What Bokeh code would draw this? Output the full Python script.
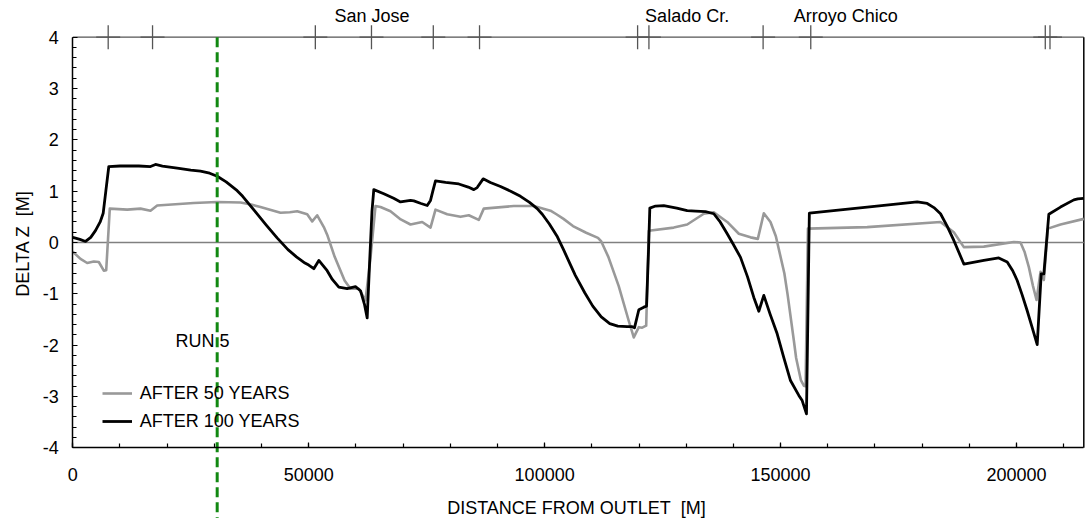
from math import pi

from bokeh.plotting import figure
from bokeh.models import (Range1d, SingleIntervalTicker, PrintfTickFormatter,
                          Legend, LegendItem)
from bokeh.core.properties import value
from bokeh.embed import file_html
from bokeh.resources import INLINE

FONT = "Liberation Sans"

# Bed change along the river after 50 years [distance m, delta z m]
dist_50 = [0, 1630, 3050, 4450, 5510, 6570, 7080, 7840, 11530, 14350, 16470,
           17880, 25640, 30600, 35540, 37800, 39780, 44020, 46000, 47560, 49680,
           50740, 51800, 53200, 54000, 55500, 57600, 58850, 60610, 62030, 63090,
           64150, 65210, 67330, 69500, 71570, 74050, 75810, 76870, 79350, 82170,
           83930, 86040, 87100, 93460, 97700, 101240, 102500, 104000, 106000,
           108800, 111300, 112000, 113500, 115700, 117800, 118890, 119960,
           120670, 121520, 122070, 127370, 130210, 133730, 135850, 138690,
           141150, 143630, 145180, 146450, 147860, 149000, 150800, 151500,
           152800, 153300, 154300, 154930, 155300, 155800, 168360, 183900,
           186720, 188840, 193070, 199430, 200850, 201700, 202620, 203500,
           204250, 205100, 205800, 206650, 209330, 214265]
dz_50 = [-0.18, -0.32, -0.40, -0.37, -0.38, -0.55, -0.54, 0.66, 0.64, 0.66, 0.62,
         0.72, 0.77, 0.79, 0.78, 0.74, 0.69, 0.58, 0.59, 0.61, 0.55,
         0.41, 0.53, 0.30, 0.13, -0.28, -0.74, -0.90, -0.90, -1.13, -0.30,
         0.71, 0.69, 0.61, 0.45, 0.35, 0.40, 0.29, 0.64, 0.55, 0.50,
         0.53, 0.44, 0.66, 0.71, 0.71, 0.62, 0.55, 0.46, 0.32,
         0.19, 0.09, 0.02, -0.28, -0.85, -1.52, -1.85, -1.65,
         -1.66, -1.62, 0.23, 0.29, 0.35, 0.56, 0.59, 0.40,
         0.17, 0.10, 0.07, 0.57, 0.40, 0.12, -0.60, -1.02,
         -1.90, -2.25, -2.68, -2.79, -2.80, 0.27, 0.30, 0.40,
         0.20, -0.09, -0.08, 0.01, 0.00, -0.18, -0.48, -0.85,
         -1.12, -0.57, -0.73, 0.27, 0.35, 0.46]

# Bed change along the river after 100 years
dist_100 = [0, 1500, 2700, 3800, 4800, 5800, 6440, 7000, 7630, 10000, 14000,
            16470, 17000, 17530, 19000, 22120, 25000, 27060, 29000, 30600,
            32500, 34840, 36000, 38500, 41000, 43300, 45600, 47400, 49200,
            50000, 51080, 52140, 53910, 55000, 56380, 58150, 59910, 60970,
            61800, 62390, 62900, 63400, 63790, 65910, 68000, 69450, 71570,
            72280, 73800, 75110, 75810, 76300, 76870, 79000, 81810, 83800,
            84990, 85700, 86970, 88500, 90640, 92800, 94880, 96800, 98420,
            99500, 101000, 102700, 104000, 105500, 106500, 108500, 110200,
            112000, 113800, 115500, 117500, 118560, 119050, 119960, 121020,
            121590, 122000, 122290, 123500, 125250, 128000, 130210, 132000,
            134090, 135850, 137200, 138690, 140000, 141510, 143000, 144330,
            145390, 146450, 147800, 149280, 150700, 152100, 153870, 154580,
            155490, 156100, 168360, 178960, 181080, 182500, 183900, 185300,
            186720, 188840, 193070, 196250, 198030, 199200, 200150, 201200,
            202270, 203300, 204390, 205240, 205800, 206850, 209330, 212150,
            213000, 214265]
dz_100 = [0.10, 0.06, 0.02, 0.10, 0.23, 0.40, 0.57, 1.00, 1.48, 1.49, 1.49,
          1.48, 1.50, 1.52, 1.49, 1.45, 1.41, 1.39, 1.35, 1.29,
          1.18, 1.01, 0.90, 0.62, 0.34, 0.09, -0.14, -0.28, -0.40,
          -0.44, -0.51, -0.35, -0.55, -0.72, -0.87, -0.90, -0.86, -0.94,
          -1.20, -1.47, -0.40, 0.60, 1.03, 0.95, 0.86, 0.79, 0.82,
          0.81, 0.76, 0.72, 0.82, 1.00, 1.20, 1.17, 1.14, 1.08,
          1.03, 1.07, 1.24, 1.17, 1.09, 1.00, 0.90, 0.78, 0.66,
          0.55, 0.36, 0.11, -0.14, -0.44, -0.64, -0.98, -1.24,
          -1.45, -1.58, -1.63, -1.64, -1.64, -1.66, -1.31, -1.26,
          -1.24, -0.20, 0.67, 0.71, 0.72, 0.67, 0.62, 0.61,
          0.60, 0.56, 0.40, 0.17, -0.04, -0.29, -0.67, -1.07,
          -1.34, -1.03, -1.40, -1.78, -2.25, -2.69, -2.98, -3.08,
          -3.34, 0.57, 0.69, 0.79, 0.76, 0.68, 0.56, 0.32,
          0.04, -0.42, -0.35, -0.30, -0.38, -0.55, -0.74, -1.02,
          -1.33, -1.65, -1.99, -0.61, -0.61, 0.55, 0.69, 0.83,
          0.85, 0.86]

# Reach boundaries marked along the top edge and named tributaries
reach_marks = [7500, 16900, 51400, 63300, 76400, 86200, 119700, 122100,
               146300, 156400, 206100, 207100]
trib_names = ["San Jose", "Salado Cr.", "Arroyo Chico"]
trib_x = [63400, 130200, 163800]

run_name = "RUN 5"
run_x = 30600          # location of the run-5 section line
reach_end = 214265     # upstream end of the modelled reach
z_lo, z_hi = -4, 4
y_bottom, y_top = -5.378, 4.715

p = figure(width=1087, height=518, output_backend="svg", toolbar_location=None,
           x_range=Range1d(-15323, 215049), y_range=Range1d(y_bottom, y_top),
           min_border=0, min_border_left=0, min_border_right=0,
           min_border_top=0, min_border_bottom=0)
p.outline_line_color = None
p.grid.visible = False
p.background_fill_color = "white"

# axes drawn on the frame at the data edges
xa = p.xaxis[0]
xa.fixed_location = z_lo
xa.bounds = (0, reach_end)
xa.ticker = SingleIntervalTicker(interval=50000, num_minor_ticks=5)
xa.formatter = PrintfTickFormatter(format="%d")
ya = p.yaxis[0]
ya.fixed_location = 0
ya.bounds = (z_lo, z_hi)
ya.ticker = SingleIntervalTicker(interval=1, num_minor_ticks=5)
ya.formatter = PrintfTickFormatter(format="%d")
for ax in (xa, ya):
    ax.axis_line_color = "black"
    ax.axis_line_width = 1.5
    ax.major_tick_in = 5
    ax.major_tick_out = 0
    ax.minor_tick_in = 4
    ax.minor_tick_out = 0
    ax.major_tick_line_width = 1.2
    ax.minor_tick_line_width = 1.2
    ax.major_label_text_font = FONT
    ax.major_label_text_font_size = "18px"
    ax.major_label_text_color = "black"
xa.major_label_standoff = 20
ya.major_label_standoff = 14

# frame lines: top reach line, right edge, zero line
p.line([0, reach_end], [z_hi, z_hi], line_color="#555555", line_width=1.3)
p.line([reach_end, reach_end], [z_lo, z_hi], line_color="black", line_width=1.5)
p.line([0, reach_end], [0, 0], line_color="#808080", line_width=1.6)

r50 = p.line(dist_50, dz_50, line_color="#999999", line_width=2.6,
             line_join="round")
r100 = p.line(dist_100, dz_100, line_color="black", line_width=2.8,
              line_join="round")

p.line([run_x, run_x], [z_hi, y_bottom], line_color="#118811", line_width=3,
       line_dash="10 5")

p.scatter([float(v) for v in reach_marks], [z_hi] * len(reach_marks),
          marker="cross", size=24, line_color="#555555", line_width=1.3)

p.text(trib_x, [4.41] * len(trib_x), text=trib_names, text_font=value(FONT),
       text_font_size="18px", text_align="center", text_baseline="middle",
       text_color="black")
p.text([21770], [-1.92], text=[run_name], text_font=value(FONT),
       text_font_size="18px", text_align="left", text_baseline="middle",
       text_color="black")

# axis titles
p.text([106750], [-5.17], text=["DISTANCE FROM OUTLET\u00a0 [M]"],
       text_font=value(FONT), text_font_size="18px", text_align="center",
       text_baseline="middle", text_color="black")
p.text([-10660], [-0.02], text=["DELTA Z\u00a0 [M]"], angle=pi / 2,
       text_font=value(FONT), text_font_size="18px", text_align="center",
       text_baseline="middle", text_color="black")

legend = Legend(items=[LegendItem(label="AFTER 50 YEARS", renderers=[r50]),
                       LegendItem(label="AFTER 100 YEARS", renderers=[r100])],
                location=(101.7, 86.5), orientation="vertical",
                border_line_color=None, background_fill_alpha=0,
                padding=0, margin=0, spacing=7, glyph_width=30,
                glyph_height=20, label_height=20, label_standoff=8,
                label_text_font=FONT, label_text_font_size="18px",
                label_text_color="black")
p.add_layout(legend, "center")

open("out.html", "w").write(file_html(p, INLINE))
